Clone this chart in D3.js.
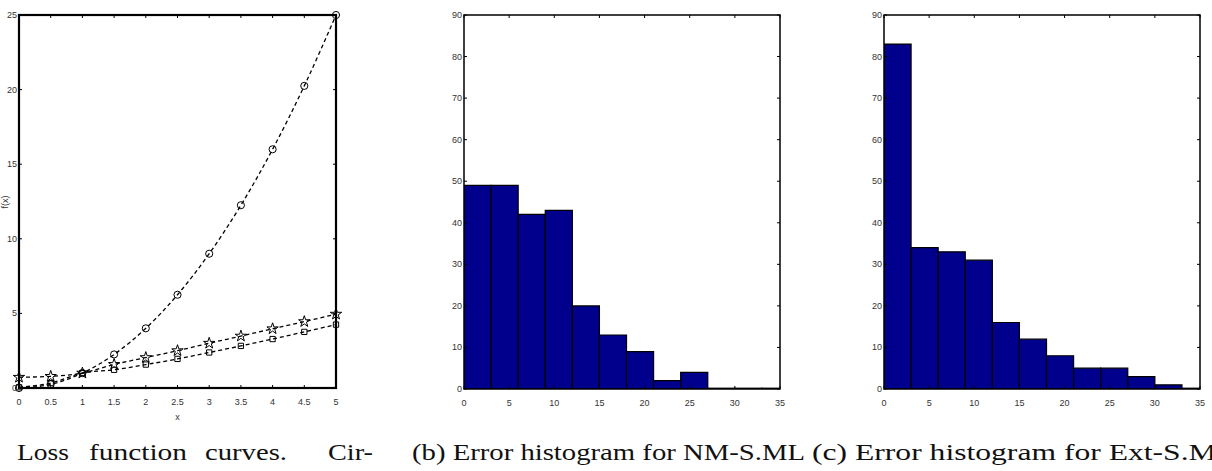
<!DOCTYPE html>
<html>
<head>
<meta charset="utf-8">
<script src="https://d3js.org/d3.v7.min.js"></script>
<style>
    body { margin: 0; background: #fff; }
    .tick-label {
        font-family: "Liberation Sans Narrow", "Liberation Sans", Arial, sans-serif;
        font-size: 9px;
        fill: #333;
    }
    .caption {
        font-family: "Liberation Serif", "DejaVu Serif", serif;
        font-size: 23px;
        fill: #111;
    }
</style>
</head>
<body>
<svg id="fig" width="1212" height="471"></svg>

<script>
    // (a) loss curves, sampled every 0.5
    const lossX = [0, 0.5, 1, 1.5, 2, 2.5, 3, 3.5, 4, 4.5, 5];
    const circleLoss = [0, 0.25, 1, 2.25, 4, 6.25, 9, 12.25, 16, 20.25, 25];
    const starLoss = [0.72, 0.78, 1.0, 1.58, 2.04, 2.5, 3.0, 3.48, 3.97, 4.45, 4.95];
    const squareLoss = [0.05, 0.33, 1.0, 1.22, 1.57, 1.95, 2.38, 2.82, 3.28, 3.76, 4.25];
    const lossXTicks = [0, 0.5, 1, 1.5, 2, 2.5, 3, 3.5, 4, 4.5, 5];
    const lossYTicks = [0, 5, 10, 15, 20, 25];

    // (b), (c) histograms, bins of width 3 starting at 0
    const binStarts = [0, 3, 6, 9, 12, 15, 18, 21, 24, 27, 30, 33];
    const countsNM = [49, 49, 42, 43, 20, 13, 9, 2, 4, 0, 0, 0];
    const countsExt = [83, 34, 33, 31, 16, 12, 8, 5, 5, 3, 1, 0];
    const histXTicks = [0, 5, 10, 15, 20, 25, 30, 35];
    const histYTicks = [0, 10, 20, 30, 40, 50, 60, 70, 80, 90];

    const captionA = ["Loss", "function", "curves.", "Cir-"];
    const captionB = "(b) Error histogram for NM-S.ML";
    const captionC = "(c) Error histogram for Ext-S.ML";

    const svg = d3.select("#fig");

    // box with inward ticks on all four sides
    function drawFrame(g, x, y, xTicks, yTicks, boxWidth) {
        const [x0, x1] = x.range();
        const [y0, y1] = y.range();
        const tl = 3;
        xTicks.forEach(t => {
            g.append("line").attr("x1", x(t)).attr("x2", x(t)).attr("y1", y0).attr("y2", y0 - tl)
                .attr("stroke", "#000").attr("stroke-width", 1);
            g.append("line").attr("x1", x(t)).attr("x2", x(t)).attr("y1", y1).attr("y2", y1 + tl)
                .attr("stroke", "#000").attr("stroke-width", 1);
            g.append("text").attr("class", "tick-label")
                .attr("x", x(t)).attr("y", y0 + 17)
                .attr("text-anchor", "middle")
                .text(t);
        });
        yTicks.forEach(t => {
            g.append("line").attr("x1", x0).attr("x2", x0 + tl).attr("y1", y(t)).attr("y2", y(t))
                .attr("stroke", "#000").attr("stroke-width", 1);
            g.append("line").attr("x1", x1).attr("x2", x1 - tl).attr("y1", y(t)).attr("y2", y(t))
                .attr("stroke", "#000").attr("stroke-width", 1);
            g.append("text").attr("class", "tick-label")
                .attr("x", x0 - 2).attr("y", y(t) + 3)
                .attr("text-anchor", "end")
                .text(t);
        });
        g.append("rect")
            .attr("x", x0).attr("y", y1)
            .attr("width", x1 - x0).attr("height", y0 - y1)
            .attr("fill", "none").attr("stroke", "#000").attr("stroke-width", boxWidth);
    }

    // ---------- (a) loss function curves ----------
    const ga = svg.append("g");
    const xa = d3.scaleLinear().domain([0, 5]).range([19, 336]);
    const ya = d3.scaleLinear().domain([0, 25]).range([388, 15]);

    const line = d3.line()
        .x((d, i) => xa(lossX[i]))
        .y(d => ya(d))
        .curve(d3.curveMonotoneX);

    [circleLoss, starLoss, squareLoss].forEach(vals => {
        ga.append("path")
            .attr("d", line(vals))
            .attr("fill", "none")
            .attr("stroke", "#000")
            .attr("stroke-width", 1.3)
            .attr("stroke-dasharray", "4,3");
    });

    const markers = [
        { vals: circleLoss, type: d3.symbolCircle, size: 40 },
        { vals: starLoss, type: d3.symbolStar, size: 40 },
        { vals: squareLoss, type: d3.symbolSquare, size: 28 }
    ];
    markers.forEach(m => {
        ga.selectAll(null).data(m.vals).join("path")
            .attr("transform", (d, i) => "translate(" + xa(lossX[i]) + "," + ya(d) + ")")
            .attr("d", d3.symbol().type(m.type).size(m.size))
            .attr("fill", "none")
            .attr("stroke", "#000")
            .attr("stroke-width", 1);
    });

    drawFrame(ga, xa, ya, lossXTicks, lossYTicks, 2.2);

    ga.append("text").attr("class", "tick-label")
        .attr("x", xa(2.5)).attr("y", 420)
        .attr("text-anchor", "middle").text("x");
    ga.append("text").attr("class", "tick-label")
        .attr("transform", "translate(8,202) rotate(-90)")
        .attr("text-anchor", "middle").text("f(x)");

    // ---------- histograms ----------
    function drawHist(left, right, counts) {
        const g = svg.append("g");
        const x = d3.scaleLinear().domain([0, 35]).range([left, right]);
        const y = d3.scaleLinear().domain([0, 90]).range([389, 15]);
        const id = "clip" + left;
        g.append("clipPath").attr("id", id)
            .append("rect").attr("x", left).attr("y", 15)
            .attr("width", right - left).attr("height", 374);

        g.append("g").attr("clip-path", "url(#" + id + ")")
            .selectAll("path").data(counts).join("path")
            .attr("d", (d, i) => {
                const a = x(binStarts[i]), b = x(binStarts[i] + 3);
                const top = y(d) - (d === 0 ? 0.8 : 0);
                return "M" + a + "," + y(0) + "V" + top + "H" + b + "V" + y(0) + "Z";
            })
            .attr("fill", "#00008c")
            .attr("stroke", "#000")
            .attr("stroke-width", 1.2);

        drawFrame(g, x, y, histXTicks, histYTicks, 1.5);
    }
    drawHist(464, 780, countsNM);
    drawHist(884, 1200, countsExt);

    // ---------- captions ----------
    const capAX = [17, 89, 205, 328];
    const capAW = [52, 98, 82, 45];
    captionA.forEach((w, i) => {
        svg.append("text").attr("class", "caption")
            .attr("x", capAX[i]).attr("y", 460)
            .attr("textLength", capAW[i]).attr("lengthAdjust", "spacingAndGlyphs")
            .text(w);
    });

    svg.append("text").attr("class", "caption")
        .attr("x", 412).attr("y", 460)
        .attr("textLength", 393).attr("lengthAdjust", "spacingAndGlyphs")
        .text(captionB);
    svg.append("text").attr("class", "caption")
        .attr("x", 812).attr("y", 460)
        .attr("textLength", 424).attr("lengthAdjust", "spacingAndGlyphs")
        .text(captionC);
</script>
</body>
</html>
